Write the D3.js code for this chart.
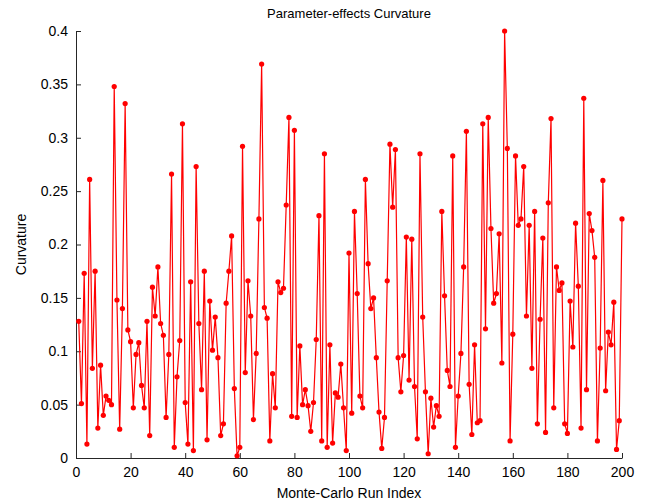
<!DOCTYPE html>
<html>
<head>
<meta charset="utf-8">
<script src="https://cdn.jsdelivr.net/npm/d3@7"></script>
<style>
  body { margin: 0; background: #fff; }
  svg { font-family: "Liberation Sans", Arial, sans-serif; }
</style>
</head>
<body>
<svg id="chart" width="645" height="504"></svg>
<script>
// curvature value for run index 1..200
const curvature = [
  0.128, 0.051, 0.173, 0.013, 0.261, 0.084, 0.175, 0.028, 0.087, 0.040,
  0.058, 0.054, 0.050, 0.348, 0.148, 0.027, 0.140, 0.332, 0.120, 0.109,
  0.047, 0.097, 0.108, 0.068, 0.047, 0.128, 0.021, 0.160, 0.133, 0.179,
  0.126, 0.115, 0.038, 0.097, 0.266, 0.010, 0.076, 0.110, 0.313, 0.052,
  0.013, 0.165, 0.007, 0.273, 0.126, 0.064, 0.175, 0.017, 0.147, 0.101,
  0.132, 0.094, 0.021, 0.032, 0.145, 0.175, 0.208, 0.065, 0.002, 0.010,
  0.292, 0.080, 0.166, 0.133, 0.036, 0.098, 0.224, 0.369, 0.141, 0.131,
  0.016, 0.079, 0.047, 0.165, 0.155, 0.159, 0.237, 0.319, 0.039, 0.307,
  0.038, 0.105, 0.050, 0.064, 0.049, 0.025, 0.052, 0.111, 0.227, 0.016,
  0.285, 0.010, 0.106, 0.014, 0.061, 0.057, 0.088, 0.047, 0.007, 0.192,
  0.042, 0.231, 0.154, 0.058, 0.047, 0.261, 0.182, 0.140, 0.150, 0.094,
  0.043, 0.009, 0.038, 0.166, 0.294, 0.235, 0.289, 0.094, 0.062, 0.096,
  0.207, 0.073, 0.205, 0.067, 0.018, 0.285, 0.132, 0.062, 0.004, 0.056,
  0.029, 0.049, 0.039, 0.231, 0.152, 0.082, 0.067, 0.283, 0.010, 0.058,
  0.098, 0.179, 0.306, 0.069, 0.022, 0.106, 0.033, 0.035, 0.313, 0.121,
  0.319, 0.215, 0.145, 0.154, 0.210, 0.089, 0.400, 0.290, 0.016, 0.116,
  0.283, 0.218, 0.224, 0.273, 0.133, 0.218, 0.084, 0.231, 0.032, 0.130,
  0.206, 0.024, 0.239, 0.318, 0.047, 0.179, 0.157, 0.164, 0.032, 0.023,
  0.147, 0.104, 0.220, 0.161, 0.028, 0.337, 0.064, 0.229, 0.213, 0.188,
  0.016, 0.103, 0.260, 0.063, 0.118, 0.106, 0.146, 0.008, 0.035, 0.224
];
const runIndex = curvature.map((v, i) => i + 1);
const xTicks = [0, 20, 40, 60, 80, 100, 120, 140, 160, 180, 200];
const yTicks = [0, 0.05, 0.1, 0.15, 0.2, 0.25, 0.3, 0.35, 0.4];

const margin = { top: 31, right: 23, bottom: 46, left: 76 },
    width = 645 - margin.left - margin.right,
    height = 504 - margin.top - margin.bottom;

const svg = d3.select("#chart")
    .append("g")
    .attr("transform", `translate(${margin.left}, ${margin.top})`);

const x = d3.scaleLinear().domain([0, 200]).range([0, width]);
const y = d3.scaleLinear().domain([0, 0.4]).range([height, 0]);

// axes, MATLAB style ticks pointing inward
const xAxis = svg.append("g")
    .attr("transform", `translate(0, ${height})`)
    .call(d3.axisBottom(x).tickValues(xTicks).tickSizeInner(-5).tickSizeOuter(0).tickPadding(9));
const yAxis = svg.append("g")
    .call(d3.axisLeft(y).tickValues(yTicks).tickSizeInner(-5).tickSizeOuter(0).tickPadding(8)
        .tickFormat(d => d3.format("~g")(d)));

[xAxis, yAxis].forEach(a => {
    a.selectAll("text").attr("font-size", "14px").attr("fill", "#000");
    a.selectAll("line").attr("stroke", "#262626");
    a.select(".domain").attr("stroke", "#262626");
});
xAxis.selectAll("text").attr("dy", "0.71em");

const line = d3.line()
    .x((d, i) => x(runIndex[i]))
    .y(d => y(d));

svg.append("path")
    .datum(curvature)
    .attr("d", line)
    .attr("fill", "none")
    .attr("stroke", "#ff0000")
    .attr("stroke-width", 1.2);

svg.selectAll("circle")
    .data(curvature)
    .join("circle")
    .attr("cx", (d, i) => x(runIndex[i]))
    .attr("cy", d => y(d))
    .attr("r", 2.6)
    .attr("fill", "#ff0000");

// labels
svg.append("text")
    .attr("x", width / 2)
    .attr("y", -13)
    .attr("text-anchor", "middle")
    .attr("font-size", "13px")
    .text("Parameter-effects Curvature");

svg.append("text")
    .attr("x", width / 2)
    .attr("y", height + 40)
    .attr("text-anchor", "middle")
    .attr("font-size", "14px")
    .text("Monte-Carlo Run Index");

svg.append("text")
    .attr("transform", `translate(${-50}, ${height / 2}) rotate(-90)`)
    .attr("text-anchor", "middle")
    .attr("font-size", "14px")
    .text("Curvature");
</script>
</body>
</html>
